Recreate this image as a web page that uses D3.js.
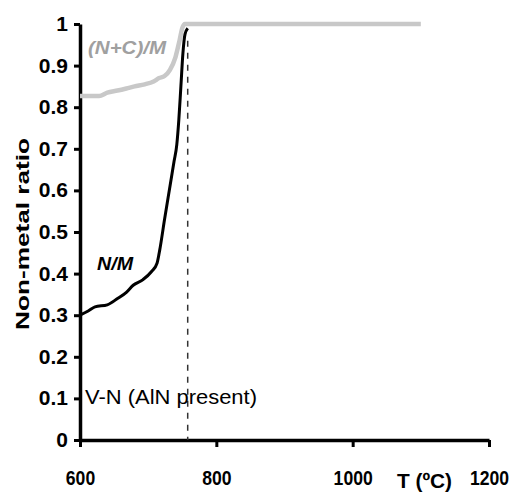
<!DOCTYPE html>
<html>
<head>
<meta charset="utf-8">
<script src="https://cdn.jsdelivr.net/npm/d3@7"></script>
<style>
  html, body { margin: 0; padding: 0; background: #fff; }
  svg text { font-family: "Liberation Sans", Arial, sans-serif; }
</style>
</head>
<body>
<svg id="chart" width="512" height="493"></svg>
<script>
// Temperature (°C) and non-metal/metal ratios
const ncTemp  = [600, 628, 640, 655, 668, 680, 695, 708, 716, 724, 732, 740, 746, 750, 754, 760, 1100];
const ncRatio = [0.827, 0.827, 0.835, 0.84, 0.845, 0.85, 0.855, 0.862, 0.87, 0.875, 0.89, 0.92, 0.96, 0.99, 1.0, 1.0, 1.0];

const nTemp  = [600, 612, 622, 640, 655, 668, 678, 692, 705, 713, 717, 724, 732, 738, 742, 745, 748, 751, 754, 758];
const nRatio = [0.30, 0.31, 0.32, 0.325, 0.34, 0.355, 0.372, 0.385, 0.405, 0.425, 0.457, 0.53, 0.61, 0.67, 0.71, 0.77, 0.85, 0.93, 0.975, 0.99];

const xTicks = [600, 800, 1000, 1200];
const yTicks = [0, 0.1, 0.2, 0.3, 0.4, 0.5, 0.6, 0.7, 0.8, 0.9, 1];
const transitionT = 758;

const svg = d3.select("#chart");
const x = d3.scaleLinear().domain([600, 1200]).range([80, 489]);
const y = d3.scaleLinear().domain([0, 1]).range([440, 24]);

// Squeeze or stretch a text element horizontally along its own baseline
function fitWidth(sel, factor) {
  sel.each(function () {
    const w = this.getComputedTextLength();
    d3.select(this).attr("textLength", w * factor).attr("lengthAdjust", "spacingAndGlyphs");
  });
}

// Axes
const xAxis = svg.append("g").attr("transform", `translate(0,${y(0)})`)
  .call(d3.axisBottom(x).tickValues(xTicks).tickSize(7).tickSizeOuter(0).tickPadding(24).tickFormat(d3.format("d")));
const yAxis = svg.append("g").attr("transform", `translate(${x(600)},0)`)
  .call(d3.axisLeft(y).tickValues(yTicks).tickSize(6).tickSizeOuter(0).tickPadding(6)
    .tickFormat(d => d === 0 ? "0" : d === 1 ? "1" : d3.format(".1f")(d)));

[xAxis, yAxis].forEach(g => {
  g.select(".domain").attr("stroke", "#000").attr("stroke-width", 3.5);
  g.selectAll(".tick line").attr("stroke", "#000").attr("stroke-width", 3);
  g.selectAll(".tick text").attr("fill", "#000").attr("font-size", 20).attr("font-weight", "bold")
    .attr("font-family", "'Liberation Sans', Arial, sans-serif");
});
xAxis.selectAll(".tick text").attr("dy", "0.71em");
fitWidth(xAxis.selectAll(".tick text"), 0.88);
fitWidth(yAxis.selectAll(".tick text"), 1.05);

// Dashed transition marker
svg.append("line")
  .attr("x1", x(transitionT)).attr("x2", x(transitionT))
  .attr("y1", y(0.96)).attr("y2", y(0))
  .attr("stroke", "#333").attr("stroke-width", 1.5).attr("stroke-dasharray", "6,6");

const line = d3.line().x(d => x(d[0])).y(d => y(d[1])).curve(d3.curveMonotoneX);

// (N+C)/M curve
svg.append("path")
  .datum(ncTemp.map((t, i) => [t, ncRatio[i]]))
  .attr("d", line)
  .attr("fill", "none").attr("stroke", "#c8c8c8").attr("stroke-width", 4.5);

// N/M curve
svg.append("path")
  .datum(nTemp.map((t, i) => [t, nRatio[i]]))
  .attr("d", line)
  .attr("fill", "none").attr("stroke", "#000").attr("stroke-width", 3);

// Labels
svg.append("text").attr("x", 88).attr("y", 54).text("(N+C)/M")
  .attr("font-size", 18).attr("font-weight", "bold").attr("font-style", "italic").attr("fill", "#a0a0a0")
  .attr("textLength", 78).attr("lengthAdjust", "spacingAndGlyphs");
svg.append("text").attr("x", 97).attr("y", 270).text("N/M")
  .attr("font-size", 18).attr("font-weight", "bold").attr("font-style", "italic").attr("fill", "#000")
  .attr("textLength", 36).attr("lengthAdjust", "spacingAndGlyphs");
svg.append("text").attr("x", 85).attr("y", 404).text("V-N (AlN present)")
  .attr("font-size", 20).attr("fill", "#000")
  .attr("textLength", 172).attr("lengthAdjust", "spacingAndGlyphs");
svg.append("text").attr("x", 397).attr("y", 488).text("T (ºC)")
  .attr("font-size", 20).attr("font-weight", "bold").attr("fill", "#000")
  .attr("textLength", 55).attr("lengthAdjust", "spacingAndGlyphs");
svg.append("text")
  .attr("transform", `translate(29,234) rotate(-90)`)
  .attr("text-anchor", "middle").text("Non-metal ratio")
  .attr("font-size", 18).attr("font-weight", "bold").attr("fill", "#000")
  .attr("textLength", 192).attr("lengthAdjust", "spacingAndGlyphs");
</script>
</body>
</html>
